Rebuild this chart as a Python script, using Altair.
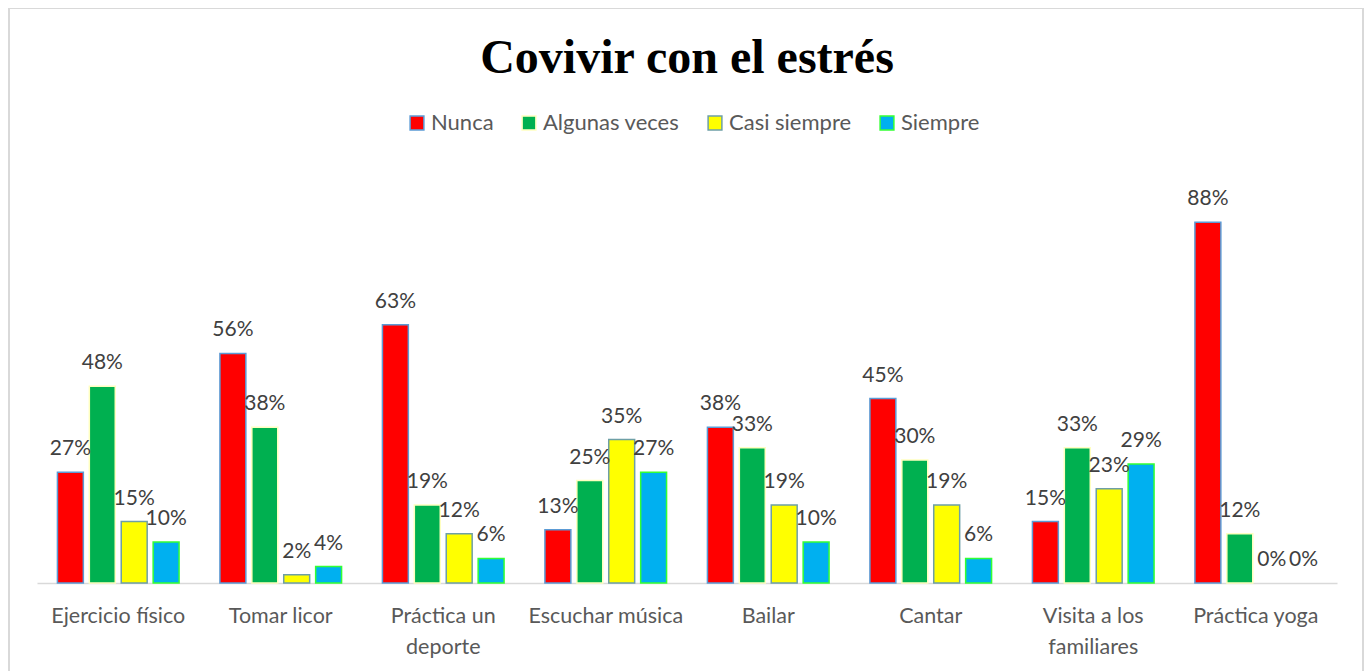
import altair as alt
import pandas as pd

categories = ["Ejercicio físico", "Tomar licor", "Práctica un deporte", "Escuchar música",
              "Bailar", "Cantar", "Visita a los familiares", "Práctica yoga"]
series = ["Nunca", "Algunas veces", "Casi siempre", "Siempre"]
nunca = [0.27, 0.56, 0.63, 0.13, 0.38, 0.45, 0.15, 0.88]
algunas = [0.48, 0.38, 0.19, 0.25, 0.33, 0.30, 0.33, 0.12]
casi = [0.15, 0.02, 0.12, 0.35, 0.19, 0.19, 0.23, 0.00]
siempre = [0.10, 0.04, 0.06, 0.27, 0.10, 0.06, 0.29, 0.00]
fills = ["#ff0000", "#00b050", "#ffff00", "#00b0f0"]
strokes = ["#5b9bd5", "#ffffc0", "#6e9fa6", "#33ff33"]

rows = []
for s, vals in zip(series, [nunca, algunas, casi, siempre]):
    for c, v in zip(categories, vals):
        rows.append({"cat": c, "serie": s, "valor": v})
df = pd.DataFrame(rows)

label_expr = ("datum.label == 'Práctica un deporte' ? ['Práctica un', 'deporte'] : "
              "datum.label == 'Visita a los familiares' ? ['Visita a los', 'familiares'] : datum.label")

x = alt.X("cat:N", sort=categories, title=None,
          scale=alt.Scale(paddingInner=0, paddingOuter=0),
          axis=alt.Axis(labelAngle=0, ticks=False, domainColor="#d9d9d9", domainWidth=1.5,
                        labelFont="Lato", labelFontSize=21.5, labelColor="#595959",
                        labelPadding=22, labelLineHeight=31, labelExpr=label_expr))
xo = alt.XOffset("serie:N", sort=series,
                 scale=alt.Scale(domain=series, paddingInner=0.1875, paddingOuter=0.64))
y = alt.Y("valor:Q", scale=alt.Scale(domain=[0, 1]), axis=None)

leg = dict(title=None, orient="none", direction="horizontal",
           legendX=369, legendY=-61, symbolType="square",
           symbolSize=190, symbolStrokeWidth=1.5,
           labelFont="Lato", labelFontSize=22, labelColor="#595959",
           labelOffset=3, columnPadding=24)

base = alt.Chart(df)

bars = base.transform_filter("datum.valor > 0").mark_bar(strokeWidth=1.5).encode(
    x=x, xOffset=xo, y=y,
    fill=alt.Fill("serie:N", sort=series, scale=alt.Scale(domain=series, range=fills),
                  legend=alt.Legend(**leg)),
    stroke=alt.Stroke("serie:N", sort=series, scale=alt.Scale(domain=series, range=strokes),
                      legend=alt.Legend(**leg)),
)

labels = base.mark_text(font="Lato", fontSize=21, color="#404040", baseline="alphabetic",
                        align="center", dy=-17).encode(
    x=x, xOffset=xo, y=y, text=alt.Text("valor:Q", format=".0%"))

frame = alt.Chart(df).mark_rect(filled=False, stroke="#d9d9d9", strokeWidth=2).encode(
    x=alt.value(-28), x2=alt.value(1326), y=alt.value(-165), y2=alt.value(520))

chart = alt.layer(frame, bars, labels).properties(
    width=1300, height=410,
    title=alt.Title("Covivir con el estrés", font="Liberation Serif", fontSize=48,
                    fontWeight="bold", color="#000000", anchor="middle",
                    baseline="alphabetic", offset=-114),
    padding={"left": 29, "top": 165, "right": 27, "bottom": 88},
    autosize=alt.AutoSizeParams(type="none"),
).configure_view(stroke=None)

chart.save("out.html", embed_options={"renderer": "svg", "actions": False})
